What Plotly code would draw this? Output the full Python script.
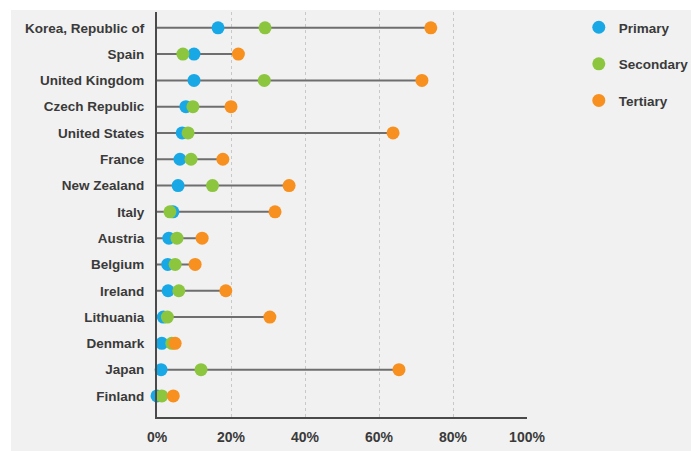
import plotly.graph_objects as go

countries = ["Korea, Republic of", "Spain", "United Kingdom", "Czech Republic", "United States",
             "France", "New Zealand", "Italy", "Austria", "Belgium", "Ireland", "Lithuania",
             "Denmark", "Japan", "Finland"]
primary = [16.5, 10.0, 10.0, 7.8, 6.8, 6.2, 5.7, 4.3, 3.2, 2.9, 3.0, 1.7, 1.3, 1.1, 0.0]
secondary = [29.2, 7.0, 29.0, 9.7, 8.4, 9.2, 15.0, 3.5, 5.4, 4.9, 5.9, 2.8, 4.0, 11.9, 1.3]
tertiary = [74.0, 22.0, 71.6, 20.0, 63.8, 17.8, 35.7, 31.9, 12.2, 10.3, 18.6, 30.5, 4.9, 65.4, 4.4]
x_ticks = [0, 20, 40, 60, 80, 100]
x_tick_labels = ["0%", "20%", "40%", "60%", "80%", "100%"]

FONT = "Liberation Sans, Arial, sans-serif"
TXT = "#3a3a3a"

line_x, line_y = [], []
for c, p, s, t in zip(countries, primary, secondary, tertiary):
    line_x += [0, max(p, s, t), None]
    line_y += [c, c, None]

fig = go.Figure()
fig.add_trace(go.Scatter(x=line_x, y=line_y, mode="lines",
                         line=dict(color="#6e6e6e", width=2),
                         showlegend=False, hoverinfo="skip", cliponaxis=False))

for name, vals, col in [("Primary", primary, "#19a8e6"),
                        ("Secondary", secondary, "#8cc63f"),
                        ("Tertiary", tertiary, "#f7901e")]:
    fig.add_trace(go.Scatter(x=vals, y=countries, mode="markers", name=name,
                             legendgroup=name,
                             marker=dict(color=col, size=13, line=dict(width=0)),
                             cliponaxis=False))

fig.update_layout(
    width=691, height=451,
    margin=dict(l=157, r=164, t=12, b=34, autoexpand=False),
    paper_bgcolor="#f1f1f1",
    plot_bgcolor="#f1f1f1",
    font=dict(family=FONT, size=13, color=TXT, weight="bold"),
    legend=dict(x=1.140, y=1.0, xanchor="left", yanchor="top",
                traceorder="grouped", tracegroupgap=16,
                font=dict(family=FONT, size=13.5, color=TXT, weight="bold"),
                bgcolor="rgba(0,0,0,0)", itemwidth=30),
    shapes=[
        dict(type="rect", xref="paper", yref="paper", layer="below",
             x0=-157/370, x1=(691-157)/370 + 0.01, y0=1 + 2/405, y1=1 + 12/405 + 0.01,
             fillcolor="white", line=dict(width=0)),
        dict(type="rect", xref="paper", yref="paper", layer="below",
             x0=-157/370 - 0.01, x1=-146/370, y0=-34/405 - 0.01, y1=1 + 12/405 + 0.01,
             fillcolor="white", line=dict(width=0)),
    ],
)

fig.update_xaxes(range=[0, 100], tickvals=x_ticks, ticktext=x_tick_labels,
                 showgrid=True, gridcolor="#c8c8c8", gridwidth=1, griddash="dot",
                 zeroline=False, showline=True, linecolor="#4a4a4a", linewidth=2,
                 ticks="outside", ticklen=6, tickcolor="rgba(0,0,0,0)",
                 tickfont=dict(family=FONT, size=14, color=TXT, weight="bold"),
                 fixedrange=True)
fig.update_yaxes(type="category", categoryorder="array", categoryarray=countries,
                 range=[14.8, -0.6], showgrid=False, zeroline=False,
                 showline=True, linecolor="#4a4a4a", linewidth=2,
                 ticks="outside", ticklen=8, tickcolor="rgba(0,0,0,0)",
                 tickfont=dict(family=FONT, size=13.5, color=TXT, weight="bold"),
                 fixedrange=True)

fig.write_html("out.html", config={"displayModeBar": False},
               post_script="document.body.style.margin='0';"
                           "document.documentElement.style.overflow='hidden';")
